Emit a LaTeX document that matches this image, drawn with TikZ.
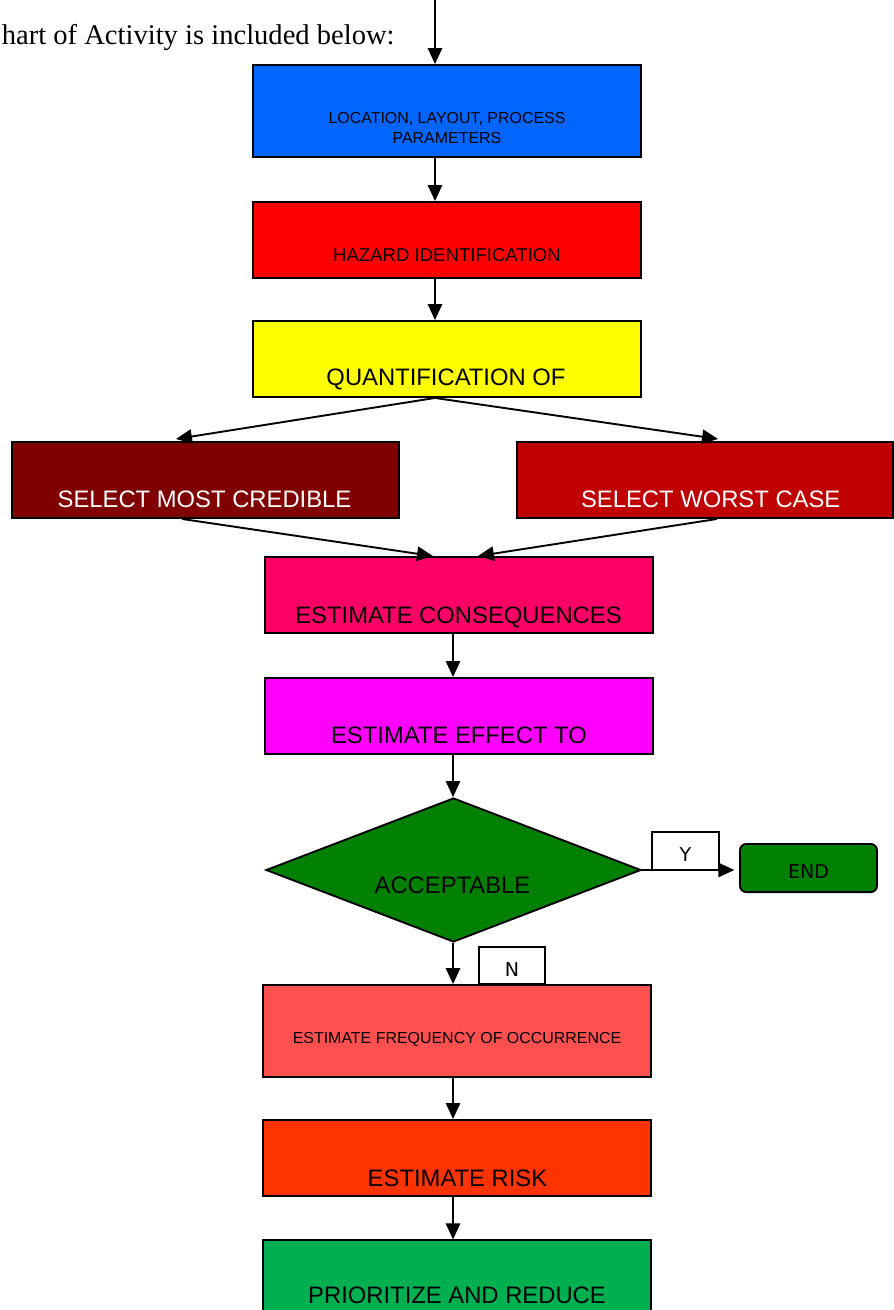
\documentclass[tikz,border=0pt]{standalone}
\usepackage{fontspec}
\setmainfont{Liberation Serif}
\newfontfamily\boxfont{Liberation Sans}
\newfontfamily\tagfont{DejaVu Sans}
\usetikzlibrary{arrows.meta,shapes.geometric}

\definecolor{locblue}{HTML}{0066FF}
\definecolor{hazred}{HTML}{FF0000}
\definecolor{quantyellow}{HTML}{FFFF00}
\definecolor{crediblered}{HTML}{800000}
\definecolor{worstred}{HTML}{C00000}
\definecolor{conseqpink}{HTML}{FF0066}
\definecolor{effectmagenta}{HTML}{FF00FF}
\definecolor{acceptgreen}{HTML}{008000}
\definecolor{freqcoral}{HTML}{FF5050}
\definecolor{riskorange}{HTML}{FF3300}
\definecolor{reducegreen}{HTML}{00B050}

\begin{document}
\begin{tikzpicture}[
    box/.style={rectangle, draw, line width=0.8pt, minimum width=5.727cm, minimum height=1.122cm, inner sep=0pt},
    tallbox/.style={box, minimum height=1.358cm},
    tagbox/.style={rectangle, draw, line width=0.8pt, inner sep=0pt, font=\tagfont\fontsize{8}{9.6}\selectfont, text height=8.8pt, text depth=0pt},
    smalltxt/.style={font=\boxfont\fontsize{6.7}{8.8}\selectfont},
    midtxt/.style={anchor=base, font=\boxfont\fontsize{7.8}{9.4}\selectfont},
    bigtxt/.style={anchor=base, font=\boxfont\fontsize{10}{12}\selectfont},
    arrow/.style={-{Triangle[length=6.7pt, width=6pt]}, line width=0.8pt}
]
\clip (0,0) rectangle (13.196,-19.337);

% text line above the chart
\node[anchor=base west, inner xsep=0pt, font=\fontsize{12}{14}\selectfont] (intro) at (0.02,-0.664) {hart of Activity is included below:};

% arrow axes
\coordinate (top) at (6.421,0);
\coordinate (col) at (6.687,0);

% upper column
\node[tallbox, fill=locblue] (loc) at (6.598,-1.638) {};
\node[smalltxt, align=center] (loc-t) at (6.598,-1.889) {LOCATION, LAYOUT, PROCESS\\PARAMETERS};
\node[box, fill=hazred] (haz) at (6.598,-3.543) {};
\node[midtxt] (haz-t) at (6.598,-3.867) {HAZARD IDENTIFICATION};
\node[box, fill=quantyellow] (quant) at (6.598,-5.299) {};
\node[bigtxt] (quant-t) at (6.583,-5.683) {QUANTIFICATION OF};

% the two selections
\node[box, minimum width=5.713cm, fill=crediblered] (credible) at (3.033,-7.085) {};
\node[bigtxt, text=white] (credible-t) at (3.019,-7.484) {SELECT MOST CREDIBLE};
\node[box, minimum width=5.550cm, fill=worstred] (worst) at (10.407,-7.085) {};
\node[bigtxt, text=white] (worst-t) at (10.491,-7.484) {SELECT WORST CASE};

% estimates
\node[box, fill=conseqpink] (conseq) at (6.775,-8.783) {};
\node[bigtxt] (conseq-t) at (6.768,-9.196) {ESTIMATE CONSEQUENCES};
\node[box, fill=effectmagenta] (effect) at (6.775,-10.569) {};
\node[bigtxt] (effect-t) at (6.775,-10.982) {ESTIMATE EFFECT TO};

% decision
\node[diamond, draw, line width=0.8pt, fill=acceptgreen, inner sep=0pt, minimum width=5.535cm, minimum height=2.126cm] (accept) at (6.694,-12.842) {};
\node[bigtxt] (accept-t) at (6.679,-13.196) {ACCEPTABLE};
\node[tagbox, fill=acceptgreen, rounded corners=0.09cm, minimum width=2.022cm, minimum height=0.709cm] (end) at (11.934,-12.813) {END};
\node[tagbox, minimum width=0.989cm, minimum height=0.561cm] (ytag) at (10.119,-12.562) {Y};
\node[tagbox, minimum width=0.974cm, minimum height=0.546cm] (ntag) at (7.558,-14.252) {N};

% lower column
\node[tallbox, fill=freqcoral] (freq) at (6.746,-15.219) {};
\node[smalltxt, anchor=base] (freq-t) at (6.746,-15.396) {ESTIMATE FREQUENCY OF OCCURRENCE};
\node[box, fill=riskorange] (risk) at (6.746,-17.093) {};
\node[bigtxt] (risk-t) at (6.753,-17.507) {ESTIMATE RISK};
\node[box, fill=reducegreen] (reduce) at (6.746,-18.870) {};
\node[bigtxt] (reduce-t) at (6.746,-19.248) {PRIORITIZE AND REDUCE};

% Arrows
\draw[arrow] (top) -- (top |- loc.north);
\draw[arrow] (loc.south -| top) -- (haz.north -| top);
\draw[arrow] (haz.south -| top) -- (quant.north -| top);
\draw[arrow] (quant.south -| top) -- ([shift={(-0.435,0.03)}]credible.north);
\draw[arrow] (quant.south -| top) -- ([shift={(0.192,0.03)}]worst.north);
\draw[arrow] ([xshift=-0.347cm]credible.south) -- ([xshift=-0.384cm]conseq.north);
\draw[arrow] ([xshift=0.177cm]worst.south) -- ([xshift=0.280cm]conseq.north);
\draw[arrow] (conseq.south -| col) -- (effect.north -| col);
\draw[arrow] (effect.south -| col) -- (accept.north -| col);
\draw[arrow] (accept.south -| col) -- (freq.north -| col);
\draw[arrow] (accept.east) -- ([xshift=-0.07cm]end.west |- accept.east);
\draw[arrow] (freq.south -| col) -- (risk.north -| col);
\draw[arrow] (risk.south -| col) -- (reduce.north -| col);

\end{tikzpicture}
\end{document}
